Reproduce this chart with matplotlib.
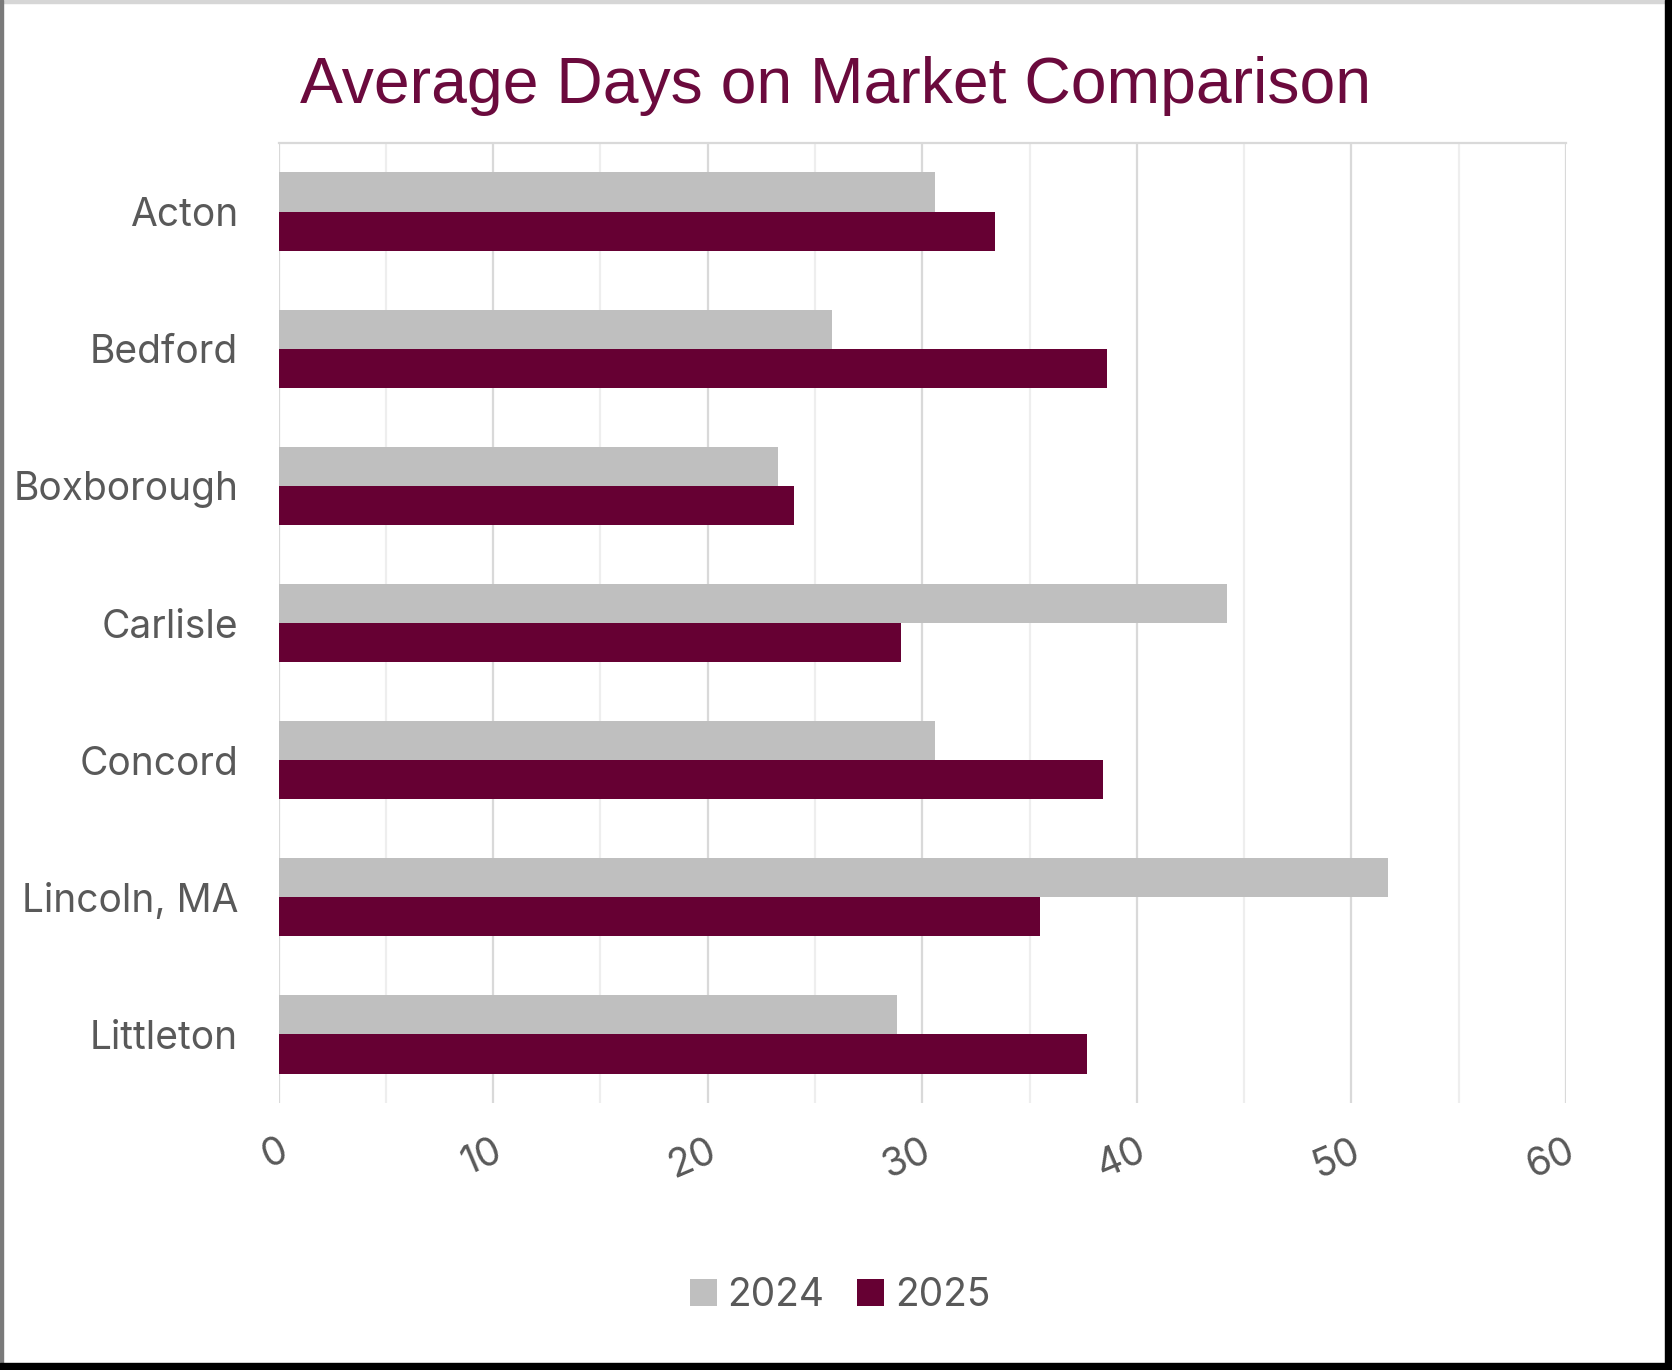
import matplotlib
matplotlib.use("Agg")
import matplotlib.pyplot as plt
from matplotlib.patches import Rectangle
from matplotlib.ticker import MultipleLocator
import numpy as np

categories = ["Acton", "Bedford", "Boxborough", "Carlisle", "Concord", "Lincoln, MA", "Littleton"]
values_2024 = [30.6, 25.8, 23.3, 44.2, 30.6, 51.7, 28.8]
values_2025 = [33.4, 38.6, 24.0, 29.0, 38.4, 35.5, 37.7]
series_names = ["2024", "2025"]
x_ticks = [0, 10, 20, 30, 40, 50, 60]

GRAY = "#BFBFBF"
MAROON = "#660033"
TEXT = "#595959"
TITLE = "#6B0A3D"

W, H = 1672, 1370
fig = plt.figure(figsize=(W / 100, H / 100), dpi=100)
fig.patch.set_facecolor("white")

ax = fig.add_axes([278.5 / W, 1 - 1103 / H, (1566 - 278.5) / W, (1103 - 143) / H])

y = np.arange(len(categories))
h = 1 / 3.5
ax.barh(y - h / 2, values_2024, height=h, color=GRAY, label=series_names[0], zorder=3)
ax.barh(y + h / 2, values_2025, height=h, color=MAROON, label=series_names[1], zorder=3)

ax.set_ylim(len(categories) - 0.5, -0.5)
ax.set_xlim(0, 60)
ax.set_yticks(y)
ax.set_yticklabels(categories, fontfamily="Inter", fontsize=28, color=TEXT)
ax.set_xticks(x_ticks)
ax.set_xticklabels([str(t) for t in x_ticks], fontfamily="Inter", fontsize=28, color=TEXT,
                   rotation=23, ha="right", va="top", rotation_mode="anchor")
ax.xaxis.set_minor_locator(MultipleLocator(5))
ax.tick_params(axis="both", which="both", length=0)
ax.tick_params(axis="y", pad=29)
ax.tick_params(axis="x", pad=21)

ax.grid(True, axis="x", which="major", color="#D9D9D9", linewidth=1.6, zorder=0)
ax.grid(True, axis="x", which="minor", color="#EEEEEE", linewidth=1.6, zorder=0)
for s in ["left", "right", "bottom"]:
    ax.spines[s].set_visible(False)
ax.spines["top"].set_color("#D9D9D9")
ax.spines["top"].set_linewidth(1.6)

fig.text(836 / W, 1 - 86 / H, "Average Days on Market Comparison", ha="center", va="center",
         fontfamily="Liberation Sans", fontsize=46.3, color=TITLE)

leg = fig.legend(loc="center", bbox_to_anchor=(840 / W, 1 - 1296 / H), ncol=2, frameon=False,
                 prop={"family": "Inter", "size": 28}, handlelength=0.69, handleheight=0.69,
                 handletextpad=0.27, columnspacing=0.85, labelcolor=TEXT)

# frame
fig.patches.append(Rectangle((0, 1 - 3 / H), 1, 3 / H, transform=fig.transFigure,
                             color="#D6D6D6", zorder=10))
fig.patches.append(Rectangle((0, 0), 3 / W, 1, transform=fig.transFigure,
                             color="#7A7A7A", zorder=10))
fig.patches.append(Rectangle((1 - 7 / W, 0), 7 / W, 1, transform=fig.transFigure,
                             color="black", zorder=11))
fig.patches.append(Rectangle((0, 0), 1, 7 / H, transform=fig.transFigure,
                             color="black", zorder=11))

fig.savefig("out.png", dpi=100, facecolor="white")
